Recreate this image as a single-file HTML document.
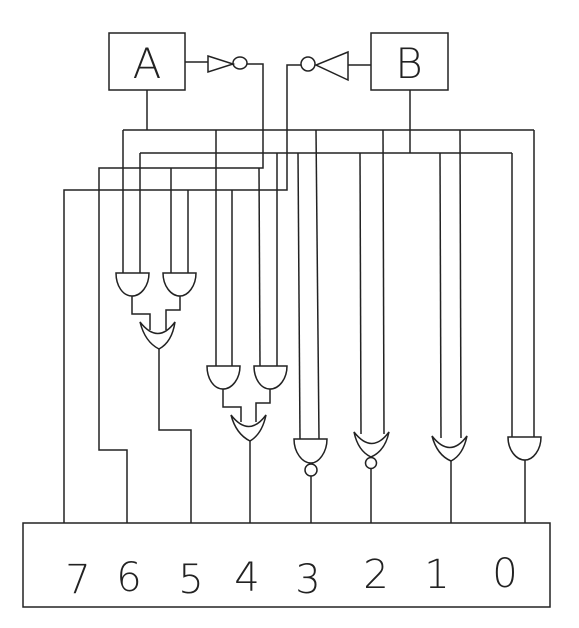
<!DOCTYPE html>
<html><head><meta charset="utf-8"><style>
html,body{margin:0;padding:0;background:#fff;}
svg{display:block}
text{font-family:"Liberation Sans",sans-serif;font-weight:normal;fill:#222;}
.dg{font-family:"DejaVu Sans","Liberation Sans",sans-serif;font-weight:200;fill:#222;}
</style></head><body>
<svg width="579" height="628" viewBox="0 0 579 628" xmlns="http://www.w3.org/2000/svg">
<g fill="none" stroke="#222" stroke-width="1.5">
  <rect x="109" y="33" width="76" height="57"/>
  <rect x="371" y="33" width="77" height="57"/>
  <g>
    <line x1="185" y1="62" x2="208" y2="62"/>
    <path d="M208,56 L233,64 L208,72 Z"/>
    <ellipse cx="240" cy="63" rx="7" ry="6"/>
    <polyline points="247,64 263,64 263,168 99,168 99,450 127,450 127,523"/>
  </g>
  <g>
    <line x1="371" y1="65" x2="348" y2="65"/>
    <path d="M348,52 L316,65 L348,80 Z"/>
    <circle cx="308" cy="64" r="7"/>
    <polyline points="301,65 287,65 287,190 64,190 64,523"/>
  </g>
  <g>
    <polyline points="147,90 147,130"/>
    <line x1="123" y1="130" x2="534" y2="130"/>
    <line x1="123" y1="130" x2="123" y2="273"/>
    <line x1="216" y1="130" x2="216" y2="366"/>
    <line x1="316" y1="130" x2="319" y2="439"/>
    <line x1="383" y1="130" x2="384" y2="434"/>
    <line x1="460" y1="130" x2="461" y2="438"/>
    <line x1="534" y1="130" x2="534" y2="437"/>
  </g>
  <g>
    <polyline points="410,90 410,153"/>
    <line x1="140" y1="153" x2="512" y2="153"/>
    <line x1="140" y1="153" x2="140" y2="273"/>
    <line x1="277" y1="153" x2="277" y2="366"/>
    <line x1="298" y1="153" x2="300" y2="439"/>
    <line x1="360" y1="153" x2="361" y2="434"/>
    <line x1="440" y1="153" x2="441" y2="438"/>
    <line x1="512" y1="153" x2="512" y2="437"/>
  </g>
  <line x1="171" y1="168" x2="171" y2="273"/>
  <line x1="259" y1="168" x2="260" y2="366"/>
  <line x1="188" y1="190" x2="188" y2="273"/>
  <line x1="232" y1="190" x2="232" y2="366"/>

  <g>
    <path d="M116,273 H149 C149,286 141,296 132,296 C123,296 116,286 116,273 Z"/>
    <path d="M163,273 H196 C196,286 188,296 180,296 C171,296 163,286 163,273 Z"/>
    <polyline points="132,296 132,314 150,314 150,330"/>
    <polyline points="180,296 180,310 166,310 166,330"/>
    <path d="M140,322 Q158,345 175,322 Q172,342 159,349 Q145,342 140,322 Z"/>
    <polyline points="159,349 159,430 191,430 191,523"/>
  </g>
  <g>
    <path d="M207,366 H240 C240,379 232,389 223,389 C214,389 207,379 207,366 Z"/>
    <path d="M254,366 H287 C287,379 279,389 270,389 C261,389 254,379 254,366 Z"/>
    <polyline points="223,389 223,407 241,407 241,422"/>
    <polyline points="270,389 270,403 256,403 256,422"/>
    <path d="M231,415 Q249,438 266,415 Q262,434 250,441 Q236,434 231,415 Z"/>
    <line x1="250" y1="441" x2="250" y2="523"/>
  </g>
  <g>
    <path d="M294,439 H327 C327,452 319,463 311,463 C302,463 294,452 294,439 Z"/>
    <circle cx="311" cy="470" r="6"/>
    <line x1="311" y1="476" x2="311" y2="523"/>
  </g>
  <g>
    <path d="M354,432 Q372,455 389,432 Q385,451 371,457 Q358,451 354,432 Z"/>
    <circle cx="371" cy="463" r="5.5"/>
    <line x1="371" y1="468" x2="371" y2="523"/>
  </g>
  <g>
    <path d="M432,436 Q450,459 467,436 Q463,455 451,461 Q437,455 432,436 Z"/>
    <line x1="451" y1="461" x2="451" y2="523"/>
  </g>
  <g>
    <path d="M508,437 H541 C541,450 533,460 525,460 C516,460 508,450 508,437 Z"/>
    <line x1="525" y1="460" x2="525" y2="523"/>
  </g>
  <rect x="23" y="523" width="527" height="84"/>
</g>
<text class="dg" x="147" y="78" font-size="42" text-anchor="middle">A</text>
<text class="dg" x="409" y="78" font-size="42" text-anchor="middle">B</text>
<g class="dg" font-size="40" text-anchor="middle">
  <text class="dg" x="78" y="593">7</text>
  <text class="dg" x="129" y="591">6</text>
  <text class="dg" x="191" y="593">5</text>
  <text class="dg" x="247" y="591">4</text>
  <text class="dg" x="308" y="593">3</text>
  <text class="dg" x="376" y="588">2</text>
  <text class="dg" x="437" y="588">1</text>
  <text class="dg" x="505" y="587">0</text>
</g>
</svg>
</body></html>
